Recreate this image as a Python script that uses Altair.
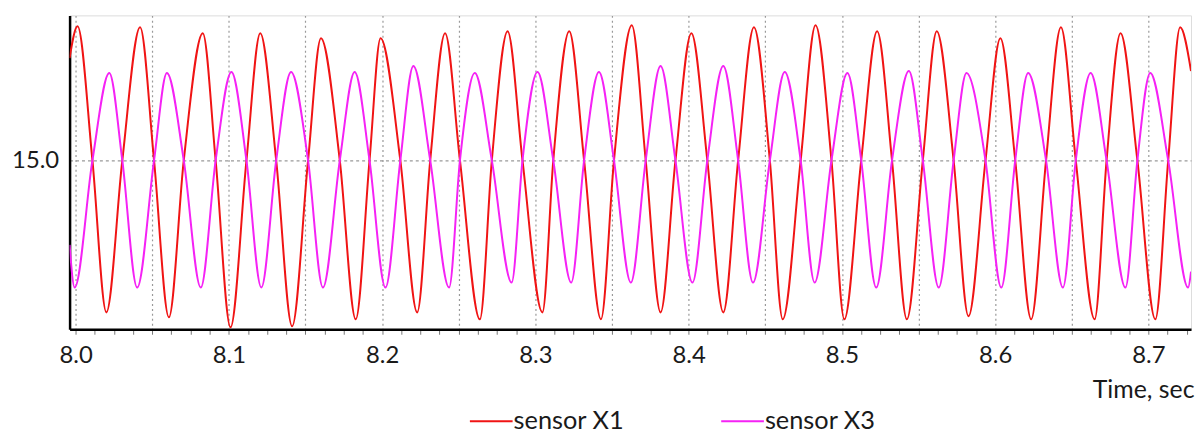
import altair as alt
import pandas as pd

# ---- data ----
# extremes (peaks / troughs) of each trace
red_t = [7.9961, 8.0013, 8.0201, 8.0421, 8.0609, 8.0830, 8.1011, 8.1205, 8.1413, 8.1601,
         8.1828, 8.1990, 8.2229, 8.2411, 8.2638, 8.2819, 8.3046, 8.3221, 8.3428, 8.3629,
         8.3817, 8.4018, 8.4226, 8.4426, 8.4614, 8.4828, 8.5016, 8.5230, 8.5424, 8.5619,
         8.5826, 8.6034, 8.6235, 8.6429, 8.6649, 8.6818, 8.7045, 8.7207, 8.7278]
red_v = [17.06, 17.70, 11.94, 17.68, 11.84, 17.56, 11.64, 17.56, 11.66, 17.46,
         11.80, 17.46, 11.94, 17.56, 11.80, 17.60, 11.94, 17.60, 11.80, 17.72,
         11.94, 17.56, 11.94, 17.68, 11.80, 17.72, 11.80, 17.60, 11.80, 17.60,
         11.86, 17.46, 11.80, 17.68, 11.80, 17.56, 11.80, 17.68, 16.80]

mag_t = [7.9961, 7.9994, 8.0220, 8.0402, 8.0596, 8.0817, 8.1017, 8.1212, 8.1406, 8.1614,
         8.1821, 8.2022, 8.2204, 8.2437, 8.2605, 8.2845, 8.3014, 8.3234, 8.3415, 8.3623,
         8.3817, 8.4025, 8.4226, 8.4420, 8.4627, 8.4822, 8.5036, 8.5224, 8.5437, 8.5632,
         8.5813, 8.6040, 8.6215, 8.6442, 8.6623, 8.6850, 8.7012, 8.7259, 8.7278]
mag_v = [13.30, 12.44, 16.76, 12.44, 16.76, 12.44, 16.78, 12.44, 16.78, 12.44,
         16.78, 12.44, 16.90, 12.44, 16.76, 12.54, 16.78, 12.54, 16.78, 12.54,
         16.90, 12.54, 16.90, 12.54, 16.78, 12.54, 16.76, 12.44, 16.80, 12.44,
         16.76, 12.44, 16.76, 12.44, 16.76, 12.44, 16.76, 12.44, 12.76]

# times where both traces cross each other on the 15.0 line
cross_t = [8.0110, 8.0305, 8.0512, 8.0706, 8.0914, 8.1115, 8.1309, 8.1517, 8.1724, 8.1918,
           8.2119, 8.2314, 8.2508, 8.2716, 8.2916, 8.3117, 8.3318, 8.3513, 8.3720, 8.3914,
           8.4122, 8.4323, 8.4530, 8.4731, 8.4932, 8.5126, 8.5327, 8.5528, 8.5729, 8.5937,
           8.6131, 8.6332, 8.6526, 8.6727, 8.6928, 8.7129]
cross_v = 15.0

series_names = ["sensor X1", "sensor X3"]
series_colors = ["#f01414", "#f522f5"]

x_domain = [7.9961, 8.7278]
y_domain = [11.60, 17.92]
y_ticks = [15.0]
x_major_labels = [8.0, 8.1, 8.2, 8.3, 8.4, 8.5, 8.6, 8.7]
x_minor_step = 0.0125
x_ticks = [round(8.0 + i * x_minor_step, 4) for i in range(59)]


def trace(ts, vs, name):
    d = pd.DataFrame({"t": list(ts) + cross_t,
                      "v": list(vs) + [cross_v] * len(cross_t)})
    d = d.sort_values("t").reset_index(drop=True)
    d["series"] = name
    d["o"] = range(len(d))
    return d


df = pd.concat([trace(red_t, red_v, series_names[0]),
                trace(mag_t, mag_v, series_names[1])])

FONT = "Lato"

x_axis = alt.Axis(
    values=x_ticks,
    labelExpr="round(datum.value*80) % 8 == 0 ? format(datum.value, '.1f') : ''",
    labelOverlap=False,
    labelFont=FONT, labelFontSize=24, labelColor="#1a1a1a",
    labelBaseline="alphabetic", labelPadding=28,
    tickSize=5, tickColor="#777", tickWidth=1,
    domainColor="#000", domainWidth=2.5,
    grid=True, gridColor="#999", gridDash=[2, 3], gridWidth=1.2,
    gridOpacity={"condition": {"test": "round(datum.value*80) % 4 == 0", "value": 1}, "value": 0},
    title="Time, sec", titleFont=FONT, titleFontSize=25, titleFontWeight="normal",
    titleColor="#1a1a1a", titleAlign="right", titleBaseline="alphabetic",
    titleX=1132, titleY=69,
)

y_axis = alt.Axis(
    values=y_ticks, format=".1f", title=None,
    ticks=False, tickSize=0, labelPadding=11,
    labelFont=FONT, labelFontSize=24, labelColor="#1a1a1a",
    domainColor="#000", domainWidth=2.5,
    grid=True, gridColor="#999", gridDash=[3, 3], gridWidth=1.2,
)

chart = alt.Chart(df).mark_line(strokeWidth=2, interpolate="monotone", clip=True).encode(
    x=alt.X("t:Q", scale=alt.Scale(domain=x_domain, nice=False, zero=False), axis=x_axis),
    y=alt.Y("v:Q", scale=alt.Scale(domain=y_domain, nice=False, zero=False), axis=y_axis),
    color=alt.Color("series:N",
                    scale=alt.Scale(domain=series_names, range=series_colors),
                    legend=alt.Legend(
                        title=None, orient="none", direction="horizontal",
                        legendX=402, legendY=386, padding=0,
                        symbolType="stroke", symbolSize=1849, symbolStrokeWidth=2,
                        labelFont=FONT, labelFontSize=25.5, labelColor="#1a1a1a",
                        labelOffset=0, columnPadding=93,
                    )),
    order="o:Q",
).properties(
    width=1129, height=316,
    autosize=alt.AutoSizeParams(type="none"),
    padding={"left": 62, "top": 6, "right": 5, "bottom": 104},
).configure_view(
    stroke="#888", strokeWidth=1.5,
).configure(background="white")

chart.save("out.html", embed_options={"renderer": "svg", "actions": False})
